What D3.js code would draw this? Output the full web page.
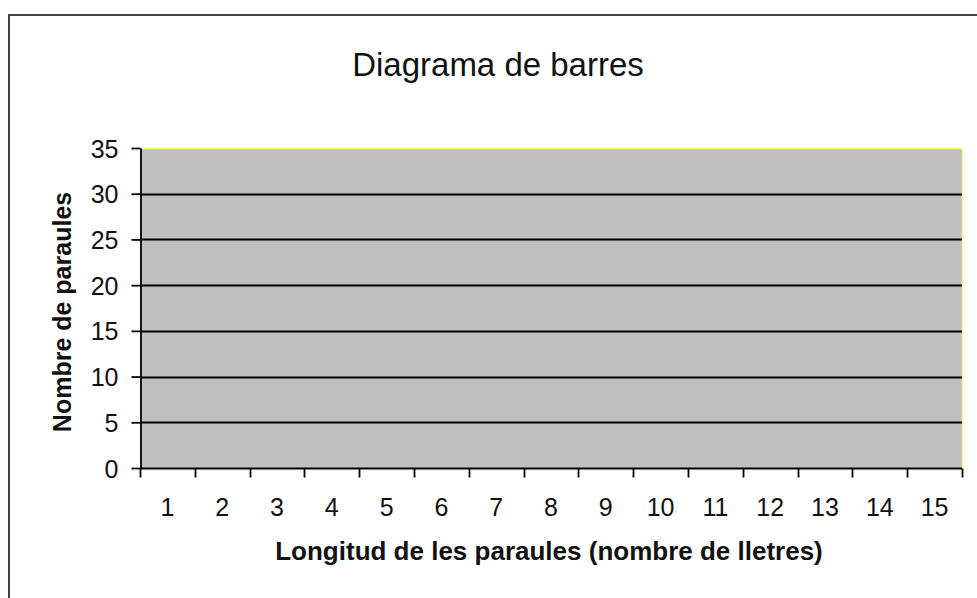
<!DOCTYPE html>
<html>
<head>
  <meta charset="UTF-8">
  <script src="https://cdn.jsdelivr.net/npm/d3@7"></script>
  <style>
    body { margin: 0; background: #fff; }
    svg { display: block; font-family: "Liberation Sans", Arial, sans-serif; }
  </style>
</head>
<body>
<svg id="chart" width="977" height="598"></svg>
<script>
// Chart data (the reference shows no bars, every count is zero)
var categories = ["1", "2", "3", "4", "5", "6", "7", "8", "9", "10", "11", "12", "13", "14", "15"];
var values = [0, 0, 0, 0, 0, 0, 0, 0, 0, 0, 0, 0, 0, 0, 0];
var yTicks = [0, 5, 10, 15, 20, 25, 30, 35];

var margin = { left: 140, top: 148, right: 962, bottom: 468 };

var svg = d3.select("#chart");

// outer frame (only top and left visible in the picture)
svg.append("rect")
  .attr("x", 9).attr("y", 15)
  .attr("width", 1000).attr("height", 1000)
  .attr("fill", "none")
  .attr("stroke", "#404040")
  .attr("stroke-width", 2);

var x = d3.scaleBand()
  .domain(categories)
  .range([margin.left, margin.right]);

var y = d3.scaleLinear()
  .domain([0, 35])
  .range([margin.bottom, margin.top]);

// plot area
svg.append("rect")
  .attr("x", margin.left).attr("y", margin.top)
  .attr("width", margin.right - margin.left)
  .attr("height", margin.bottom - margin.top)
  .attr("fill", "#c0c0c0");

// yellow border top & right
svg.append("path")
  .attr("d", "M" + margin.left + "," + (margin.top + 0.5) + "H" + (margin.right + 0.5) + "V" + margin.bottom)
  .attr("fill", "none")
  .attr("stroke", "#ffff80")
  .attr("stroke-width", 1.5);

// gridlines
svg.append("g")
  .selectAll("line")
  .data(yTicks.filter(function (d) { return d > 0 && d < 35; }))
  .enter().append("line")
  .attr("x1", margin.left).attr("x2", margin.right)
  .attr("y1", function (d) { return Math.round(y(d)) + 0.5; })
  .attr("y2", function (d) { return Math.round(y(d)) + 0.5; })
  .attr("stroke", "#000")
  .attr("stroke-width", 1.8);

// bars
svg.append("g")
  .selectAll("rect")
  .data(values)
  .enter().append("rect")
  .attr("x", function (d, i) { return x(categories[i]) + x.bandwidth() * 0.2; })
  .attr("width", x.bandwidth() * 0.6)
  .attr("y", function (d) { return y(d); })
  .attr("height", function (d) { return y(0) - y(d); })
  .attr("fill", "#9999ff")
  .attr("stroke", "#000");

// y axis
var yAxis = svg.append("g")
  .attr("transform", "translate(" + (margin.left + 0.5) + ",0)")
  .call(d3.axisLeft(y).tickValues(yTicks).tickSize(9).tickPadding(13).tickSizeOuter(0));
yAxis.select(".domain").attr("stroke", "#000").attr("stroke-width", 1.8);
yAxis.selectAll(".tick line").attr("stroke", "#000").attr("stroke-width", 1.8);
yAxis.selectAll("text")
  .attr("font-size", 25)
  .attr("font-family", "'Liberation Sans', Arial, sans-serif")
  .attr("fill", "#111")
  .attr("dy", "0.36em");

// x axis: ticks between categories
var xAxis = svg.append("g")
  .attr("transform", "translate(0," + (margin.bottom + 0.5) + ")");
xAxis.append("line")
  .attr("x1", margin.left).attr("x2", margin.right)
  .attr("stroke", "#000").attr("stroke-width", 1.8);
var bounds = categories.map(function (c) { return x(c); }).concat([x.range()[1]]);
xAxis.selectAll(".xt")
  .data(bounds)
  .enter().append("line")
  .attr("class", "xt")
  .attr("x1", function (d) { return Math.round(d) + 0.5; })
  .attr("x2", function (d) { return Math.round(d) + 0.5; })
  .attr("y1", 0).attr("y2", 9)
  .attr("stroke", "#000").attr("stroke-width", 1.8);
xAxis.selectAll(".xl")
  .data(categories)
  .enter().append("text")
  .attr("class", "xl")
  .attr("x", function (d) { return x(d) + x.bandwidth() / 2; })
  .attr("y", 47)
  .attr("text-anchor", "middle")
  .attr("font-size", 25)
  .attr("fill", "#111")
  .text(function (d) { return d; });

// titles
svg.append("text")
  .attr("x", 498).attr("y", 76)
  .attr("text-anchor", "middle")
  .attr("font-size", 33)
  .attr("fill", "#111")
  .text("Diagrama de barres");

svg.append("text")
  .attr("x", 549).attr("y", 560)
  .attr("text-anchor", "middle")
  .attr("font-size", 26)
  .attr("font-weight", "bold")
  .attr("fill", "#111")
  .text("Longitud de les paraules (nombre de lletres)");

svg.append("text")
  .attr("transform", "translate(71,312) rotate(-90)")
  .attr("text-anchor", "middle")
  .attr("font-size", 25)
  .attr("font-weight", "bold")
  .attr("fill", "#111")
  .text("Nombre de paraules");
</script>
</body>
</html>
